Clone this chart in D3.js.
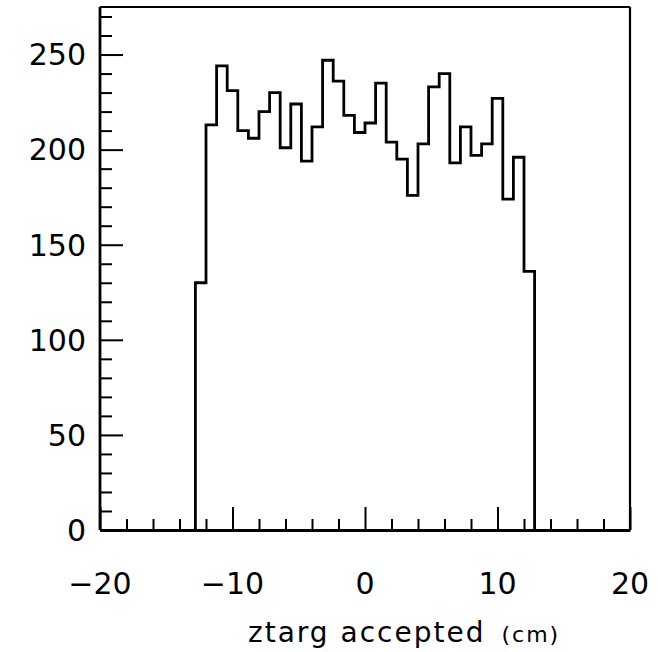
<!DOCTYPE html>
<html>
<head>
<meta charset="utf-8">
<script src="https://cdn.jsdelivr.net/npm/d3@7"></script>
<style>
  html, body { margin: 0; padding: 0; background: #fff; }
  svg { display: block; }
  text { font-family: "DejaVu Sans", sans-serif; fill: #000; }
</style>
</head>
<body>
<svg id="chart" width="658" height="652"></svg>
<script>
// ---- data ----
const binStart = -12.8;
const binWidth = 0.8;
const counts = [130, 213, 244, 231, 210, 206, 220, 230, 201, 224, 194, 212,
                247, 236, 218, 209, 214, 235, 204, 195, 176, 203, 233, 240,
                193, 212, 197, 203, 227, 174, 196, 136];
const xDomain = [-20, 20];
const yDomain = [0, 275];
const xTickLabels = [-20, -10, 0, 10, 20];
const yTickLabels = [0, 50, 100, 150, 200, 250];
const xTitle = "ztarg accepted";
const xUnit = "(cm)";

// ---- layout ----
const svg = d3.select("#chart");
const pLeft = 100, pRight = 630, pTop = 7, pBottom = 530;
const x = d3.scaleLinear().domain(xDomain).range([pLeft, pRight]);
const y = d3.scaleLinear().domain(yDomain).range([pBottom, pTop]);

// frame
const g = svg.append("g");
g.append("line").attr("x1", pLeft).attr("x2", pRight).attr("y1", pTop).attr("y2", pTop)
  .attr("stroke", "#000").attr("stroke-width", 2.2);
g.append("line").attr("x1", pRight).attr("x2", pRight).attr("y1", pTop).attr("y2", pBottom)
  .attr("stroke", "#000").attr("stroke-width", 2.2);

// x axis (ticks inside)
const xMinor = d3.range(-20, 20.001, 2);
const xAxis = d3.axisBottom(x).tickValues(xMinor)
  .tickSize(-11).tickSizeOuter(0).tickFormat("");
const gx = svg.append("g").attr("transform", `translate(0,${pBottom})`).call(xAxis);
gx.select(".domain").attr("stroke-width", 2.8);
gx.selectAll(".tick line").attr("stroke-width", 2)
  .attr("y2", d => (d % 10 === 0 ? -23 : -11));

svg.append("g").selectAll("text").data(xTickLabels).join("text")
  .attr("x", d => x(d)).attr("y", 594)
  .attr("text-anchor", "middle")
  .style("font-size", "30px")
  .text(d => (d < 0 ? "\u2212" + Math.abs(d) : String(d)));

// y axis (ticks inside)
const yMinor = d3.range(0, 271, 10);
const yAxis = d3.axisLeft(y).tickValues(yMinor)
  .tickSize(-12).tickSizeOuter(0).tickFormat("");
const gy = svg.append("g").attr("transform", `translate(${pLeft},0)`).call(yAxis);
gy.select(".domain").attr("stroke-width", 2.8)
  .attr("d", `M0,${pBottom}V${pTop}`);
gy.selectAll(".tick line").attr("stroke-width", 2)
  .attr("x2", d => (d % 50 === 0 ? 23 : 12));

svg.append("g").selectAll("text").data(yTickLabels).join("text")
  .attr("x", 86).attr("y", d => y(d))
  .attr("dy", "0.36em")
  .attr("text-anchor", "end")
  .style("font-size", "30px")
  .text(d => String(d));

// histogram (step outline)
const pts = [[x(binStart), y(0)]];
counts.forEach((c, i) => {
  const x0 = binStart + i * binWidth, x1 = x0 + binWidth;
  pts.push([x(x0), y(c)]);
  pts.push([x(x1), y(c)]);
});
pts.push([x(binStart + counts.length * binWidth), y(0)]);
svg.append("path")
  .attr("d", d3.line()(pts))
  .attr("fill", "none")
  .attr("stroke", "#000")
  .attr("stroke-width", 2.8)
  .attr("stroke-linejoin", "miter");

// x title
const t = svg.append("text")
  .attr("x", 248).attr("y", 642)
  .style("font-size", "28px")
  .style("letter-spacing", "2px");
t.append("tspan").text(xTitle);
t.append("tspan").attr("dx", 16).style("font-size", "22px").text(xUnit);
</script>
</body>
</html>
